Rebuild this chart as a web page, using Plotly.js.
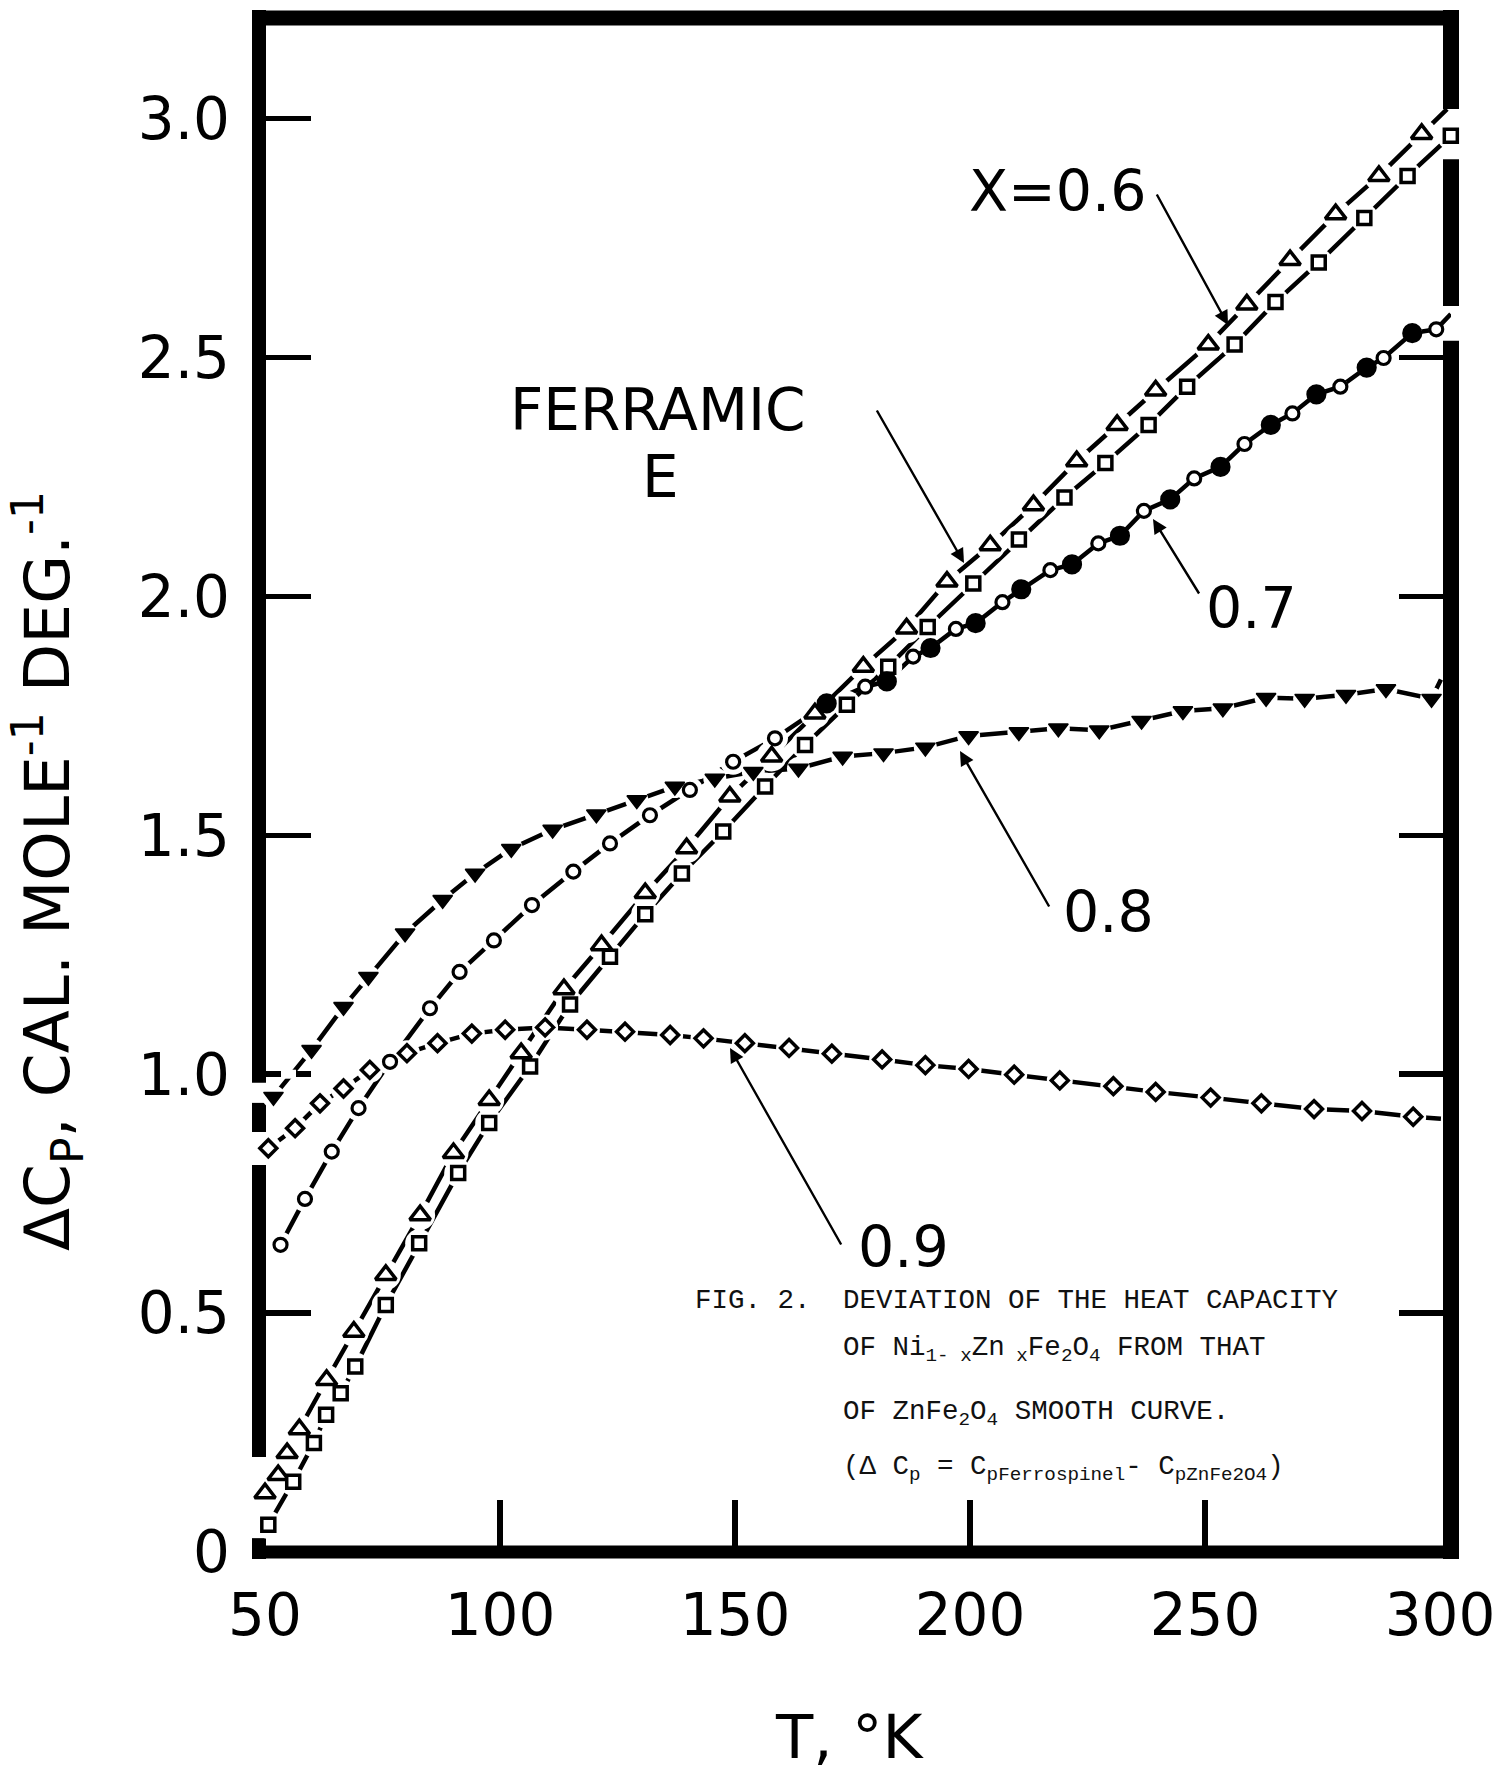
<!DOCTYPE html>
<html>
<head>
<meta charset="utf-8">
<script src="https://cdn.plot.ly/plotly-3.0.1.min.js"></script>
<style>
html, body { margin: 0; padding: 0; background: #ffffff; }
#chart { width: 1512px; height: 1775px; }
</style>
</head>
<body>
<div id="chart"></div>
<script>
// ---------------- DATA ----------------
// X = 0.6  (open triangles)
const x06T  = [50.0, 52.8, 54.7, 57.3, 63.1, 68.9, 75.7, 83.0, 90.1, 97.7, 104.5, 113.6, 121.6, 130.9, 139.7, 148.9, 157.8, 167.0, 177.3, 186.5, 195.1, 204.3, 213.5, 222.7, 231.3, 239.5, 250.7, 258.9, 268.1, 277.8, 287.0, 296.1];
const x06Cp = [0.123, 0.161, 0.207, 0.257, 0.360, 0.461, 0.580, 0.705, 0.835, 0.946, 1.044, 1.178, 1.270, 1.379, 1.473, 1.581, 1.665, 1.755, 1.853, 1.933, 2.031, 2.107, 2.191, 2.283, 2.359, 2.431, 2.527, 2.611, 2.704, 2.800, 2.880, 2.968];
const x06CurveEndT = [301.5], x06CurveEndCp = [3.02];

// Ferramic E (open squares)
const ferT  = [50.7, 56.0, 60.4, 63.0, 66.1, 69.2, 75.7, 82.8, 91.1, 97.7, 106.4, 114.9, 123.4, 130.9, 138.7, 147.5, 156.4, 164.9, 173.8, 182.6, 191.0, 200.7, 210.4, 220.1, 228.8, 238.0, 246.2, 256.3, 265.0, 274.2, 283.9, 293.1, 302.3];
const ferCp = [0.057, 0.147, 0.228, 0.287, 0.332, 0.388, 0.517, 0.646, 0.793, 0.898, 1.016, 1.146, 1.246, 1.335, 1.420, 1.508, 1.602, 1.689, 1.773, 1.853, 1.936, 2.027, 2.119, 2.207, 2.279, 2.359, 2.439, 2.527, 2.616, 2.699, 2.792, 2.880, 2.964];

// X = 0.7 (open and filled circles)
const x07T  = [53.3, 58.5, 64.2, 69.9, 76.6, 85.1, 91.4, 98.7, 106.8, 115.6, 123.4, 131.9, 140.4, 149.6, 158.5, 169.5, 177.7, 182.3, 187.9, 191.6, 197.0, 201.2, 206.9, 210.9, 217.1, 221.7, 227.3, 231.9, 237.0, 242.6, 247.7, 253.3, 258.4, 264.0, 268.6, 273.7, 278.8, 284.4, 288.0, 294.1, 299.2];
const x07Cp = [0.643, 0.739, 0.838, 0.929, 1.026, 1.138, 1.214, 1.280, 1.354, 1.424, 1.483, 1.542, 1.595, 1.654, 1.703, 1.776, 1.811, 1.822, 1.874, 1.892, 1.932, 1.944, 1.988, 2.015, 2.055, 2.067, 2.111, 2.127, 2.179, 2.203, 2.247, 2.271, 2.319, 2.359, 2.383, 2.423, 2.439, 2.479, 2.499, 2.551, 2.559];
const x07Filled = [0,0,0,0,0,0,0,0,0,0,0,0,0,0,0, 1,0,1,0,1,0,1,0,1,0,1,0,1,0,1,0,1,0,1,0,1,0,1,0,1,0];
const x07CurveEndT = [302.3], x07CurveEndCp = [2.591];

// X = 0.8 (filled down-triangles)
const x08T  = [51.8, 59.9, 66.7, 72.0, 79.8, 87.8, 94.7, 102.4, 111.2, 120.5, 129.1, 137.2, 145.7, 153.9, 163.5, 172.9, 181.6, 190.5, 199.7, 210.4, 218.8, 227.5, 236.5, 245.3, 253.8, 263.0, 271.2, 280.0, 288.5, 298.2];
const x08Cp = [0.953, 1.051, 1.141, 1.204, 1.295, 1.365, 1.420, 1.472, 1.512, 1.544, 1.574, 1.602, 1.619, 1.633, 1.640, 1.665, 1.672, 1.684, 1.708, 1.716, 1.724, 1.720, 1.740, 1.760, 1.766, 1.788, 1.786, 1.794, 1.806, 1.786];
const x08CurveEndT = [300.2], x08CurveEndCp = [1.826];

// X = 0.9 (open diamonds)
const x09T  = [50.7, 56.4, 61.7, 66.7, 72.3, 80.2, 86.7, 94.0, 101.1, 109.6, 118.5, 126.6, 136.2, 143.3, 152.1, 161.5, 170.6, 181.3, 190.5, 199.7, 209.4, 219.1, 230.5, 239.5, 251.2, 262.0, 273.2, 283.4, 294.3];
const x09Cp = [0.845, 0.887, 0.939, 0.970, 1.009, 1.044, 1.065, 1.085, 1.093, 1.098, 1.093, 1.089, 1.082, 1.075, 1.065, 1.055, 1.043, 1.031, 1.019, 1.011, 0.999, 0.987, 0.975, 0.963, 0.951, 0.939, 0.927, 0.923, 0.911];
const x09CurveEndT = [300.2], x09CurveEndCp = [0.907];

// Axis ticks
const xTickVals = [50, 100, 150, 200, 250, 300];
const xTickText = ['50', '100', '150', '200', '250', '300'];
const xInnerTicks = [100, 150, 200, 250];
const yTickVals = [0, 0.5, 1.0, 1.5, 2.0, 2.5, 3.0];
const yTickText = ['0', '0.5', '1.0', '1.5', '2.0', '2.5', '3.0'];
const yRightTicks = [0.5, 1.0, 1.5, 2.0, 2.5];

// Breaks in the hand-drawn frame (in data units of the y axis)
const leftFrameGaps  = [[0.982, 0.940], [0.879, 0.810], [0.199, 0.029]];
const rightFrameGaps = [[3.020, 2.915], [2.608, 2.535]];

// ---------------- LAYOUT GEOMETRY ----------------
const W = 1512, H = 1775;
const L = 259, R = 1451, TOP = 18, BOT = 1552;
const xRange = [48.72, 302.34];
const yTop = 3.2106;
const yRange = [0, yTop];

const px = (x) => (x - L) / (R - L);
const py = (y) => (BOT - y) / (BOT - TOP);
const vp = (v) => v / yTop;

const FONT = 'DejaVu Sans';
const MONO = 'Liberation Mono';

// ---------------- TRACES ----------------
const lineStyle = { color: '#000', width: 4.5 };
const traces = [];

function lineTrace(T, C, endT, endC) {
  return { x: T.concat(endT || []), y: C.concat(endC || []), mode: 'lines', type: 'scatter',
           line: lineStyle, hoverinfo: 'skip', showlegend: false };
}
function haloTrace(T, C, size) {
  return { x: T, y: C, mode: 'markers', type: 'scatter', cliponaxis: false,
           marker: { symbol: 'circle', size: size, color: '#ffffff', opacity: 1, line: { width: 0 } },
           hoverinfo: 'skip', showlegend: false };
}
function markerTrace(T, C, symbol, size, fill, lw, name) {
  return { x: T, y: C, mode: 'markers', type: 'scatter', cliponaxis: false, name: name,
           marker: { symbol: symbol, size: size, color: fill, opacity: 1, line: { color: '#000', width: lw } },
           showlegend: false };
}

// lines
traces.push(lineTrace(x06T, x06Cp, x06CurveEndT, x06CurveEndCp));
traces.push(lineTrace(ferT, ferCp));
traces.push(lineTrace(x07T, x07Cp, x07CurveEndT, x07CurveEndCp));
traces.push(lineTrace(x08T, x08Cp, x08CurveEndT, x08CurveEndCp));
traces.push(lineTrace(x09T, x09Cp, x09CurveEndT, x09CurveEndCp));

// white halos that break the lines into dashes around each point
const x07Halo = x07Filled.map((f, i) => (i < 15 ? 26 : (f ? 19 : 15)));
traces.push(haloTrace(x06T, x06Cp, 30));
traces.push(haloTrace(ferT, ferCp, 28));
traces.push(haloTrace(x07T, x07Cp, x07Halo));
traces.push(haloTrace(x08T, x08Cp, 23));
traces.push(haloTrace(x09T, x09Cp, 26));

// markers
traces.push(markerTrace(x06T, x06Cp, 'triangle-up', 18, '#ffffff', 3.5, 'X=0.6'));
traces.push(markerTrace(ferT, ferCp, 'square', 13, '#ffffff', 3.5, 'Ferramic E'));
traces.push(markerTrace(x07T, x07Cp, 'circle',
  x07Filled.map(f => (f ? 17 : 13)),
  x07Filled.map(f => (f ? '#000000' : '#ffffff')), 3.2, '0.7'));
traces.push(markerTrace(x08T, x08Cp, 'triangle-down', 17, '#000000', 1.5, '0.8'));
traces.push(markerTrace(x09T, x09Cp, 'diamond', 13, '#ffffff', 3.5, '0.9'));

// carriers for the tick-only overlay axes
traces.push({ x: [null], y: [null], xaxis: 'x2', yaxis: 'y', mode: 'markers', showlegend: false, hoverinfo: 'skip' });
traces.push({ x: [null], y: [null], xaxis: 'x', yaxis: 'y2', mode: 'markers', showlegend: false, hoverinfo: 'skip' });

// ---------------- FRAME (hand-drawn heavy border) ----------------
const shapes = [];
function seg(x0, y0, x1, y1, w, color, layer) {
  shapes.push({ type: 'line', xref: 'paper', yref: 'paper', x0, y0, x1, y1,
                line: { color: color || '#000', width: w }, layer: layer || 'below' });
}
const topExt = 8 / (BOT - TOP), botExt = 7 / (BOT - TOP);
seg(px(252), 1, px(1459), 1, 15);          // top
seg(px(252), 0, px(1459), 0, 13);          // bottom
function vertical(xp, gaps, w) {
  let start = 1 + topExt;
  gaps.forEach(g => { seg(xp, start, xp, vp(g[0]), w); start = vp(g[1]); });
  seg(xp, start, xp, -botExt, w);
}
vertical(0, leftFrameGaps, 14);
vertical(1, rightFrameGaps, 16);
// the broken 1.0 tick on the left axis
seg(px(281), vp(1.0), px(296), vp(1.0), 9, '#ffffff', 'above');

// ---------------- ANNOTATIONS ----------------
function label(text, cx, cy, size, extra) {
  return Object.assign({ xref: 'paper', yref: 'paper', x: px(cx), y: py(cy),
    xanchor: 'center', yanchor: 'middle', text: text, showarrow: false,
    font: { family: FONT, size: size, color: '#000' } }, extra || {});
}
function arrow(tx, ty, sx, sy) {
  return { xref: 'paper', yref: 'paper', x: px(tx), y: py(ty),
    axref: 'pixel', ayref: 'pixel', ax: sx - tx, ay: sy - ty,
    text: '', showarrow: true, arrowhead: 2, arrowsize: 1.2, arrowwidth: 2.4,
    arrowcolor: '#000', standoff: 0, startstandoff: 0 };
}
function caption(text, left, cy) {
  return { xref: 'paper', yref: 'paper', x: px(left), y: py(cy), xanchor: 'left', yanchor: 'middle',
    text: text, showarrow: false, font: { family: MONO, size: 27.5, color: '#111' } };
}

const annotations = [
  label('ΔC<sub>P</sub>, CAL. MOLE<sup>-1</sup> DEG.<sup>-1</sup>', 47, 871, 63, { textangle: -90 }),
  label('T, °K', 850, 1737, 61),
  label('X=0.6', 1057, 191, 57),
  label('FERRAMIC', 658, 410, 58),
  label('E', 660, 477, 58),
  label('0.7', 1251, 608, 57),
  label('0.8', 1108, 912, 57),
  label('0.9', 903, 1247, 57),
  arrow(1228, 325, 1156, 193),
  arrow(964, 563, 876, 409),
  arrow(1153, 519, 1200, 595),
  arrow(960, 751, 1050, 908),
  arrow(730, 1048, 842, 1246),
  caption('FIG. 2.', 693, 1300),
  caption('DEVIATION OF THE HEAT CAPACITY', 841, 1300),
  caption('OF Ni<sub>1- x</sub>Zn<sub> x</sub>Fe<sub>2</sub>O<sub>4</sub> FROM THAT', 841, 1349),
  caption('OF ZnFe<sub>2</sub>O<sub>4</sub> SMOOTH CURVE.', 841, 1413),
  caption('(Δ C<sub>p</sub> = C<sub>pFerrospinel</sub>- C<sub>pZnFe2O4</sub>)', 841, 1468)
];

// ---------------- AXES ----------------
const tickFont = { family: FONT, size: 58, color: '#000' };
const layout = {
  width: W, height: H,
  margin: { l: L, r: W - R, t: TOP, b: H - BOT, pad: 0 },
  paper_bgcolor: '#ffffff', plot_bgcolor: '#ffffff',
  showlegend: false,
  font: { family: FONT, color: '#000' },
  xaxis: { range: xRange, tickmode: 'array', tickvals: xTickVals, ticktext: xTickText,
           ticks: '', showline: false, showgrid: false, zeroline: false,
           tickfont: tickFont, ticklabelstandoff: 24, fixedrange: true },
  xaxis2: { overlaying: 'x', anchor: 'y', side: 'bottom', range: xRange, tickmode: 'array',
            tickvals: xInnerTicks, ticks: 'inside', ticklen: 52, tickwidth: 5.5, tickcolor: '#000',
            showticklabels: false, showline: false, showgrid: false, zeroline: false, fixedrange: true },
  yaxis: { range: yRange, tickmode: 'array', tickvals: yTickVals, ticktext: yTickText,
           ticks: 'inside', ticklen: 52, tickwidth: 5.5, tickcolor: '#000',
           showline: false, showgrid: false, zeroline: false,
           tickfont: tickFont, ticklabelstandoff: 28, fixedrange: true },
  yaxis2: { overlaying: 'y', anchor: 'x', side: 'right', range: yRange, tickmode: 'array',
            tickvals: yRightTicks, ticks: 'inside', ticklen: 52, tickwidth: 5.5, tickcolor: '#000',
            showticklabels: false, showline: false, showgrid: false, zeroline: false, fixedrange: true },
  shapes: shapes,
  annotations: annotations
};

Plotly.newPlot('chart', traces, layout, { displayModeBar: false, staticPlot: true });
</script>
</body>
</html>
